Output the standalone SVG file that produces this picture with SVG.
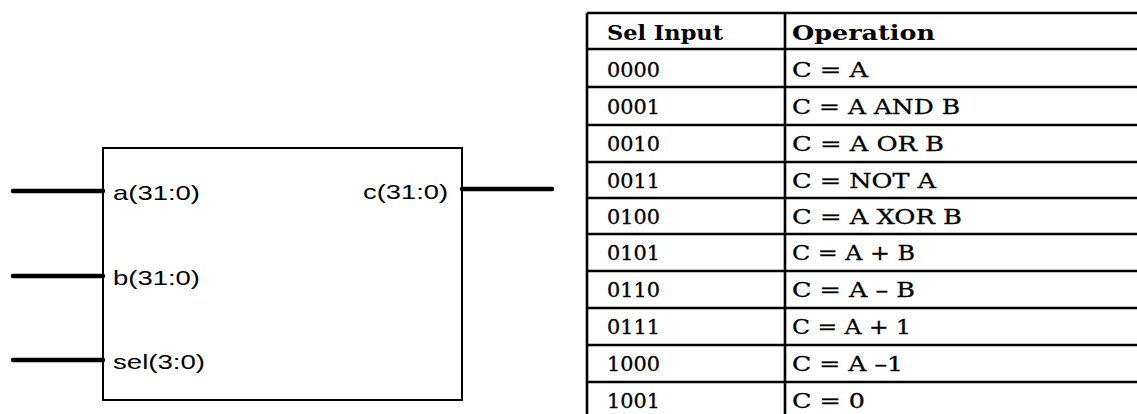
<svg xmlns="http://www.w3.org/2000/svg" width="1137" height="414" viewBox="0 0 1137 414">
  <style>
    .box { fill: none; stroke: #000; stroke-width: 2; }
    .bus { stroke: #000; stroke-width: 4.5; stroke-linecap: round; }
    .port { font-family: "Liberation Sans", Arial, sans-serif; font-size: 21px; fill: #000; }
    .grid { stroke: #000; stroke-width: 2.6; fill: none; }
    .hdr { font-family: "DejaVu Serif", "Liberation Serif", serif; font-weight: bold; font-size: 20px; fill: #000; }
    .cell { font-family: "DejaVu Serif", "Liberation Serif", serif; font-size: 20px; fill: #000; stroke: #000; stroke-width: 0.3; }
  </style>

  <!-- ALU block -->
  <g id="alu">
    <rect class="box" x="103" y="148" width="359" height="252"/>
    <text class="port" x="113" y="200" textLength="87" lengthAdjust="spacingAndGlyphs">a(31:0)</text>
    <text class="port" x="113" y="285" textLength="87" lengthAdjust="spacingAndGlyphs">b(31:0)</text>
    <text class="port" x="113" y="369" textLength="92" lengthAdjust="spacingAndGlyphs">sel(3:0)</text>
    <text class="port" x="363" y="199" textLength="85" lengthAdjust="spacingAndGlyphs">c(31:0)</text>
  </g>

  <!-- bus wires -->
  <g id="connectors">
    <line class="bus" x1="13" y1="191" x2="103" y2="191"/>
    <line class="bus" x1="13" y1="276" x2="103" y2="276"/>
    <line class="bus" x1="13" y1="360" x2="103" y2="360"/>
    <line class="bus" x1="462" y1="189" x2="552" y2="189"/>
  </g>

  <!-- operation table -->
  <g id="table">
    <path class="grid" d="M587 13 V414 M785 13 V414"/>
    <path class="grid" d="M587 13 H1137 M587 49 H1137 M587 87 H1137 M587 125 H1137 M587 162 H1137 M587 198 H1137 M587 234 H1137 M587 271 H1137 M587 308 H1137 M587 345 H1137 M587 382 H1137"/>
    <text class="hdr" x="607" y="40" textLength="116" lengthAdjust="spacingAndGlyphs">Sel Input</text>
    <text class="hdr" x="792" y="40" textLength="143" lengthAdjust="spacingAndGlyphs">Operation</text>

    <g class="cell">
      <text x="607" y="77" textLength="53" lengthAdjust="spacingAndGlyphs">0000</text>
      <text x="607" y="114" textLength="53" lengthAdjust="spacingAndGlyphs">0001</text>
      <text x="607" y="151" textLength="53" lengthAdjust="spacingAndGlyphs">0010</text>
      <text x="607" y="188" textLength="53" lengthAdjust="spacingAndGlyphs">0011</text>
      <text x="607" y="224" textLength="53" lengthAdjust="spacingAndGlyphs">0100</text>
      <text x="607" y="260" textLength="53" lengthAdjust="spacingAndGlyphs">0101</text>
      <text x="607" y="297" textLength="53" lengthAdjust="spacingAndGlyphs">0110</text>
      <text x="607" y="334" textLength="53" lengthAdjust="spacingAndGlyphs">0111</text>
      <text x="607" y="371" textLength="53" lengthAdjust="spacingAndGlyphs">1000</text>
      <text x="607" y="408" textLength="53" lengthAdjust="spacingAndGlyphs">1001</text>

      <text x="792" y="77" textLength="76" lengthAdjust="spacingAndGlyphs">C = A</text>
      <text x="792" y="114" textLength="168" lengthAdjust="spacingAndGlyphs">C = A AND B</text>
      <text x="792" y="151" textLength="152" lengthAdjust="spacingAndGlyphs">C = A OR B</text>
      <text x="792" y="188" textLength="144" lengthAdjust="spacingAndGlyphs">C = NOT A</text>
      <text x="792" y="224" textLength="170" lengthAdjust="spacingAndGlyphs">C = A XOR B</text>
      <text x="792" y="260" textLength="123" lengthAdjust="spacingAndGlyphs">C = A + B</text>
      <text x="792" y="297" textLength="123" lengthAdjust="spacingAndGlyphs">C = A – B</text>
      <text x="792" y="334" textLength="119" lengthAdjust="spacingAndGlyphs">C = A + 1</text>
      <text x="792" y="371" textLength="111" lengthAdjust="spacingAndGlyphs">C = A –1</text>
      <text x="792" y="408" textLength="73" lengthAdjust="spacingAndGlyphs">C = 0</text>
    </g>
  </g>
</svg>
